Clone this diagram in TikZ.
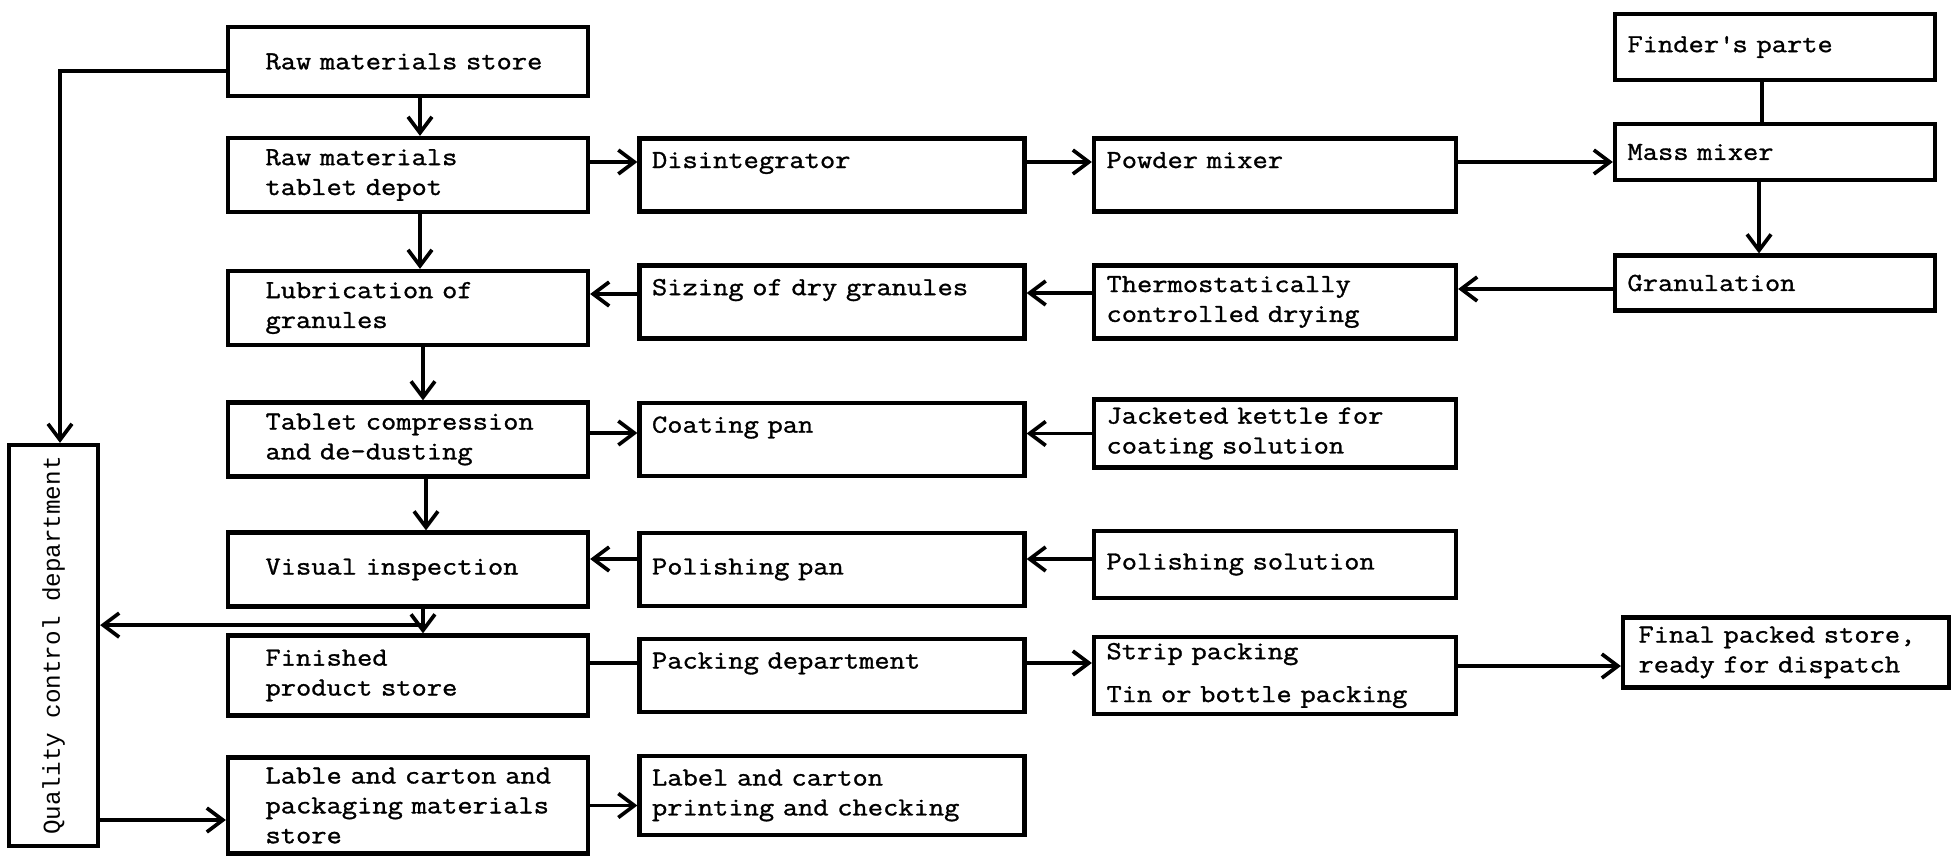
\documentclass[tikz,border=0pt]{standalone}
\usepackage{fontspec}
\usepackage{tikz}
\usetikzlibrary{positioning, arrows.meta}
\newfontfamily\typer{Latin Modern Mono}[FakeStretch=1.14, FakeBold=1.2]
\newfontfamily\qcfont{Liberation Mono}
\tikzset{
->, % every connector is directed
>={Straight Barb[length=3.2mm,width=4.8mm]}, % open barbs as on the typed sheet
node distance=2.63cm, % centre to centre distance between two rows
every node/.style={font=\typer\fontsize{14.8}{17}\selectfont},
proc/.style={draw, line width=2.4pt, align=left, inner xsep=0pt, inner ysep=2pt}, % one step of the process
colA/.style={proc, minimum width=7.2cm, text width=5.7cm, minimum height=1.48cm},
colB/.style={proc, minimum width=7.7cm, text width=7.2cm, minimum height=1.46cm},
colC/.style={proc, minimum width=7.24cm, text width=6.74cm, minimum height=1.46cm},
colD/.style={proc, minimum width=6.4cm, text width=5.9cm, minimum height=1.14cm},
}

\begin{document}
\begin{tikzpicture}[line width=2.1pt]
\useasboundingbox (-8.16,1.23) rectangle (30.9,-15.89);
% first column
\node[colA, minimum height=1.38cm] (rawstore) {Raw materials store};
\node[colA, below of=rawstore, node distance=2.27cm] (depot) {Raw materials\\tablet depot};
\node[colA, below of=depot, node distance=2.66cm] (lubri) {Lubrication of\\granules};
\node[colA, below of=lubri] (compress) {Tablet compression\\and de-dusting};
\node[colA, below of=compress, node distance=2.6cm] (visual) {Visual inspection};
\node[colA, below of=visual, node distance=2.12cm, minimum height=1.6cm] (finished) {Finished\\product store};
\node[colA, below of=finished, node distance=2.6cm, minimum height=1.92cm] (lable) {\mbox{Lable and carton and}\\packaging materials\\store};
% second and third column
\node[colB, right of=depot, node distance=8.48cm] (disint) {Disintegrator\\~};
\node[colC, right of=disint, node distance=8.86cm] (powder) {Powder mixer\\~};
\node[colB, right of=lubri, node distance=8.48cm, yshift=0.12cm] (sizing) {Sizing of dry granules\\~};
\node[colC, right of=sizing, node distance=8.86cm] (thermo) {Thermostatically\\controlled drying};
\node[colB, right of=compress, node distance=8.48cm] (coating) {Coating pan\\~};
\node[colC, right of=coating, node distance=8.86cm, yshift=0.12cm, minimum height=1.36cm] (kettle) {Jacketed kettle for\\coating solution};
\node[colB, right of=visual, node distance=8.48cm] (polpan) {Polishing pan};
\node[colC, right of=polpan, node distance=8.86cm, yshift=0.1cm, minimum height=1.34cm] (polsol) {Polishing solution};
\node[colB, right of=finished, node distance=8.48cm] (packdep) {Packing department\\~};
\node[colC, right of=packdep, node distance=8.86cm, minimum height=1.54cm] (strip) {Strip packing\\[2.6mm]Tin or bottle packing};
\node[colB, right of=lable, node distance=8.48cm, yshift=0.2cm, minimum height=1.58cm] (printing) {Label and carton\\printing and checking};
% last column
\node[colD, right of=powder, node distance=10cm, yshift=0.46cm, minimum height=1.12cm] (massmix) {Mass mixer};
\node[colD, above of=massmix, node distance=2.1cm, minimum height=1.32cm] (finder) {Finder\textquotesingle s parte};
\node[colD, below of=massmix, node distance=2.62cm, minimum height=1.1cm] (granul) {Granulation};
\node[colD, right of=strip, node distance=10.22cm, yshift=0.46cm, minimum width=6.52cm, minimum height=1.4cm] (final) {Final packed store,\\ready for dispatch};
% quality control
\node[draw, line width=2.4pt, minimum width=1.78cm, minimum height=8.02cm, left of=finished, node distance=7.09cm, yshift=0.6cm, font=\qcfont\fontsize{13.8}{16}\selectfont] (qc) {\rotatebox{90}{Quality control department}};

\draw ([xshift=2.4mm]rawstore.south) -- ([xshift=2.4mm]depot.north);
\draw ([xshift=2.4mm]depot.south) -- ([xshift=2.4mm]lubri.north);
\draw ([xshift=3mm]lubri.south) -- ([xshift=3mm]compress.north);
\draw ([xshift=3.6mm]compress.south) -- ([xshift=3.6mm]visual.north);
\draw ([xshift=3mm]visual.south) -- ([xshift=3mm]finished.north);

\draw ([yshift=2.6mm]depot.east) -- ([yshift=2.6mm]depot.east -| disint.west);
\draw ([yshift=2.6mm]disint.east) -- ([yshift=2.6mm]disint.east -| powder.west);
\draw ([yshift=2.6mm]powder.east) -- ([yshift=2.6mm]powder.east -| massmix.west);
\draw[-] ([xshift=-2.6mm]finder.south) -- ([xshift=-2.6mm]massmix.north);
\draw ([xshift=-3.2mm]massmix.south) -- ([xshift=-3.2mm]granul.north);

\draw ([yshift=-1.2mm]granul.west) -- ([yshift=-1.2mm]granul.west -| thermo.east);
\draw ([yshift=1.8mm]thermo.west) -- ([yshift=1.8mm]thermo.west -| sizing.east);
\draw ([yshift=1.6mm]sizing.west) -- ([yshift=1.6mm]sizing.west -| lubri.east);

\draw ([yshift=1.3mm]compress.east) -- ([yshift=1.3mm]compress.east -| coating.west);
\draw (kettle.west) -- (kettle.west -| coating.east);
\draw ([yshift=1.1mm]polsol.west) -- ([yshift=1.1mm]polsol.west -| polpan.east);
\draw ([yshift=2.1mm]polpan.west) -- ([yshift=2.1mm]polpan.west -| visual.east);

\draw[-] ([yshift=2.5mm]finished.east) -- ([yshift=2.5mm]finished.east -| packdep.west);
\draw ([yshift=2.5mm]packdep.east) -- ([yshift=2.5mm]packdep.east -| strip.west);
\draw ([yshift=1.9mm]strip.east) -- ([yshift=1.9mm]strip.east -| final.west);
\draw ([yshift=-2.9mm]lable.west -| qc.east) -- ([yshift=-2.9mm]lable.west);
\draw (lable.east) -- (lable.east -| printing.west);

% samples to and from quality control
\draw ([yshift=-1.9mm]rawstore.west) -| ([xshift=1.3mm]qc.north);
\coordinate (qcsplit) at ([xshift=3mm,yshift=-3.3mm]visual.south);
\draw (qcsplit) -- (qcsplit -| qc.east);
\end{tikzpicture}
\end{document}
